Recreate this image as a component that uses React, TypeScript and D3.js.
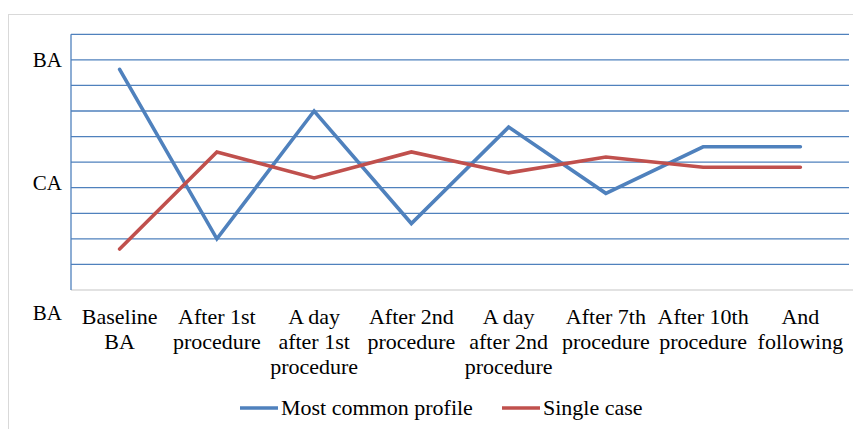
import * as d3 from "d3";
import { useEffect, useRef } from "react";

const categories: string[][] = [
    ["Baseline", "BA"],
    ["After 1st", "procedure"],
    ["A day", "after 1st", "procedure"],
    ["After 2nd", "procedure"],
    ["A day", "after 2nd", "procedure"],
    ["After 7th", "procedure"],
    ["After 10th", "procedure"],
    ["And", "following"],
];

const mostCommon = [8.63, 2.0, 7.0, 2.6, 6.37, 3.78, 5.6, 5.6];
const singleCase = [1.6, 5.4, 4.38, 5.4, 4.58, 5.2, 4.8, 4.8];

const yTickValues = [1, 2, 3, 4, 5, 6, 7, 8, 9, 10];
const yLabels = [
    { value: 9, label: "BA" },
    { value: 4.2, label: "CA" },
    { value: -0.9, label: "BA" },
];

const series = [
    { name: "Most common profile", values: mostCommon, color: "#4F81BD" },
    { name: "Single case", values: singleCase, color: "#C0504D" },
];

const width = 853;
const height = 429;
const marginTop = 34.3;
const marginLeft = 71;
const plotRight = 849;
const plotBottom = 290;
const font = "Liberation Serif, Times New Roman, serif";

const App = () => {
    const ref = useRef<SVGSVGElement>(null);

    useEffect(() => {
        const svg = d3.select(ref.current);
        svg.selectAll("*").remove();

        const x = d3.scaleBand<number>()
            .domain(d3.range(categories.length))
            .range([marginLeft, plotRight]);

        const y = d3.scaleLinear()
            .domain([0, 10])
            .range([plotBottom, marginTop]);

        // chart border
        svg.append("rect")
            .attr("x", 8.5)
            .attr("y", 14.5)
            .attr("width", width)
            .attr("height", height)
            .attr("fill", "none")
            .attr("stroke", "#D9D9D9");

        // gridlines
        svg.append("g")
            .selectAll("line")
            .data(yTickValues)
            .join("line")
            .attr("x1", marginLeft)
            .attr("x2", plotRight)
            .attr("y1", d => y(d))
            .attr("y2", d => y(d))
            .attr("stroke", "#4F81BD")
            .attr("stroke-width", 1.3);

        // bottom axis
        svg.append("line")
            .attr("x1", marginLeft)
            .attr("x2", width)
            .attr("y1", y(0))
            .attr("y2", y(0))
            .attr("stroke", "#D9D9D9")
            .attr("stroke-width", 1.3);

        // left axis
        svg.append("line")
            .attr("x1", marginLeft)
            .attr("x2", marginLeft)
            .attr("y1", y(10))
            .attr("y2", y(0))
            .attr("stroke", "#4F81BD")
            .attr("stroke-width", 1.3);

        // y labels
        svg.append("g")
            .selectAll("text")
            .data(yLabels)
            .join("text")
            .attr("x", 62)
            .attr("y", d => y(d.value))
            .attr("dy", "0.33em")
            .attr("text-anchor", "end")
            .style("font-family", font)
            .style("font-size", "21px")
            .attr("fill", "#000")
            .text(d => d.label);

        // x labels
        const xLabels = svg.append("g")
            .selectAll("text")
            .data(categories)
            .join("text")
            .attr("text-anchor", "middle")
            .style("font-family", font)
            .style("font-size", "22px")
            .attr("fill", "#000")
            .attr("transform", (_, i) => `translate(${x(i)! + x.bandwidth() / 2},324)`);

        xLabels.selectAll("tspan")
            .data(d => d)
            .join("tspan")
            .attr("x", 0)
            .attr("y", (_, i) => i * 25)
            .text(d => d);

        // lines
        const line = d3.line<number>()
            .x((_, i) => x(i)! + x.bandwidth() / 2)
            .y(d => y(d));

        svg.append("g")
            .selectAll("path")
            .data(series)
            .join("path")
            .attr("d", d => line(d.values))
            .attr("fill", "none")
            .attr("stroke", d => d.color)
            .attr("stroke-width", 3.6)
            .attr("stroke-linejoin", "miter")
            .attr("stroke-linecap", "round");

        // legend
        const legendPos = [240, 502];
        const legend = svg.append("g")
            .selectAll("g")
            .data(series)
            .join("g")
            .attr("transform", (_, i) => `translate(${legendPos[i]},408)`);

        legend.append("line")
            .attr("x1", 0)
            .attr("x2", 38)
            .attr("stroke", d => d.color)
            .attr("stroke-width", 3.6);

        legend.append("text")
            .attr("x", 41)
            .attr("dy", "0.33em")
            .style("font-family", font)
            .style("font-size", "22px")
            .attr("fill", "#000")
            .text(d => d.name);
    }, []);

    return (
        <svg
            ref={ref}
            width={width}
            height={height}
            style={{ position: "absolute", left: 0, top: 0, background: "#fff" }}
        />
    );
};

export default App;
